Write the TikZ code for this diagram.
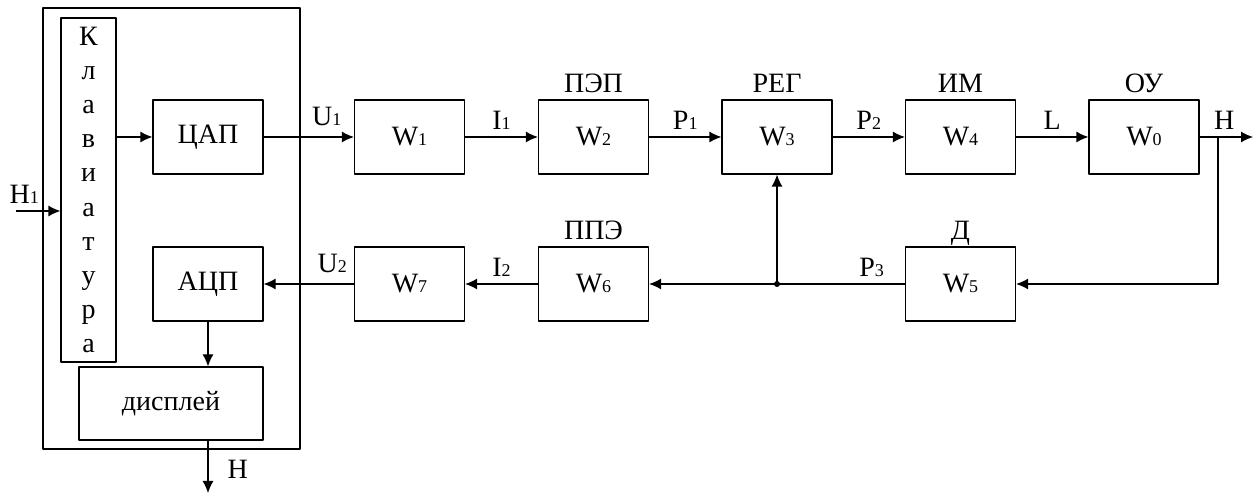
\documentclass[tikz,border=0pt]{standalone}
\usepackage{fontspec}
\setmainfont{Liberation Serif}
\usetikzlibrary{arrows.meta}
\newcommand{\idx}[1]{{\fontsize{18bp}{18bp}\selectfont #1}}
\tikzset{
  blk/.style={draw, minimum width=110bp, minimum height=74bp, inner sep=0pt,
    font=\fontsize{28bp}{30bp}\selectfont},
  lbl/.style={inner sep=0pt, font=\fontsize{28bp}{30bp}\selectfont},
  sig/.style={lbl, anchor=base, yshift=7bp},
  ttl/.style={lbl, anchor=base},
}
\begin{document}
\begin{tikzpicture}[>={Latex[length=12bp,width=11bp]},line join=bevel]
  \pgfsetlinewidth{1.2bp}
  \useasboundingbox (0bp,0bp) rectangle (1258bp,495bp);
%%
  % Node: panel
  \node[draw, minimum width=257bp, minimum height=441bp, inner sep=0pt] (panel) at (171.5bp,266.5bp) {};
  % Node: keyboard
  \node[draw, minimum width=55bp, minimum height=344bp, inner sep=0pt, align=center,
    font=\fontsize{28bp}{34.2bp}\selectfont] (kbd) at (88.5bp,305bp)
    {К\\л\\а\\в\\и\\а\\т\\у\\р\\а};
  % Node: DAC / ADC / display
  \node[blk] (dac) at (208bp,358bp) {ЦАП};
  \node[blk] (adc) at (208bp,211bp) {АЦП};
  \node[blk, minimum width=184bp, minimum height=73bp] (disp) at (171bp,91.5bp) {дисплей};
  % Node: forward path
  \node[blk] (w1) at (409.5bp,358bp) {W\idx{1}};
  \node[blk] (w2) at (593.5bp,358bp) {W\idx{2}};
  \node[blk] (w3) at (777bp,358bp) {W\idx{3}};
  \node[blk] (w4) at (960.5bp,358bp) {W\idx{4}};
  \node[blk] (w0) at (1144bp,358bp) {W\idx{0}};
  % Node: feedback path
  \node[blk] (w5) at (960.5bp,211bp) {W\idx{5}};
  \node[blk] (w6) at (593.5bp,211bp) {W\idx{6}};
  \node[blk] (w7) at (409.5bp,211bp) {W\idx{7}};
  % Node: titles
  \node[ttl] (tpep) at ([yshift=7bp]w2.north) {ПЭП};
  \node[ttl] (treg) at ([yshift=7bp]w3.north) {РЕГ};
  \node[ttl] (tim) at ([yshift=7bp]w4.north) {ИМ};
  \node[ttl] (tou) at ([yshift=7bp]w0.north) {ОУ};
  \node[ttl] (td) at ([yshift=7bp]w5.north) {Д};
  \node[ttl] (tppe) at ([yshift=7bp]w6.north) {ППЭ};
  % Coordinates: free ends
  \coordinate (hin) at (16bp,284bp);
  \coordinate (hout) at (1253bp,358bp);
  \coordinate (hbr) at (1218bp,358bp);
  \coordinate (hdown) at (208bp,2bp);
  \coordinate (jn) at (777bp,211bp);
  % Edge: H1 -> keyboard
  \draw [->] (hin) -- (kbd.west |- hin);
  \node[lbl, anchor=base west] (sh1) at (9bp,291bp) {H\idx{1}};
  % Edge: keyboard -> DAC
  \draw [->] (kbd.east |- dac) -- (dac);
  % Edge: DAC -> W1
  \draw [->] (dac) -- node[sig, pos=0.70, yshift=4bp] (su1) {U\idx{1}} (w1);
  % Edge: W1 -> W2
  \draw [->] (w1) -- node[sig] (si1) {I\idx{1}} (w2);
  % Edge: W2 -> W3
  \draw [->] (w2) -- node[sig] (sp1) {P\idx{1}} (w3);
  % Edge: W3 -> W4
  \draw [->] (w3) -- node[sig] (sp2) {P\idx{2}} (w4);
  % Edge: W4 -> W0
  \draw [->] (w4) -- node[sig] (sl) {L} (w0);
  % Edge: W0 -> out
  \draw [->] (w0) -- node[sig, pos=0.46] (sh) {H} (hout);
  % Edge: out -> W5
  \draw [->] (hbr) |- (w5);
  % Edge: W5 -> W6
  \draw [->] (w5) -- node[sig, pos=0.13] (sp3) {P\idx{3}} (w6);
  % Edge: junction -> W3
  \draw [->] (jn) -- (w3);
  \fill (jn) circle (3bp);
  % Edge: W6 -> W7
  \draw [->] (w6) -- node[sig] (si2) {I\idx{2}} (w7);
  % Edge: W7 -> ADC
  \draw [->] (w7) -- node[sig, pos=0.24, yshift=4bp] (su2) {U\idx{2}} (adc);
  % Edge: ADC -> display
  \draw [->] (adc) -- (adc |- disp.north);
  % Edge: display -> H
  \draw [->] (adc |- disp.south) -- (hdown);
  \node[lbl, anchor=base west] (shd) at (227bp,17bp) {H};
%
\end{tikzpicture}
\end{document}
